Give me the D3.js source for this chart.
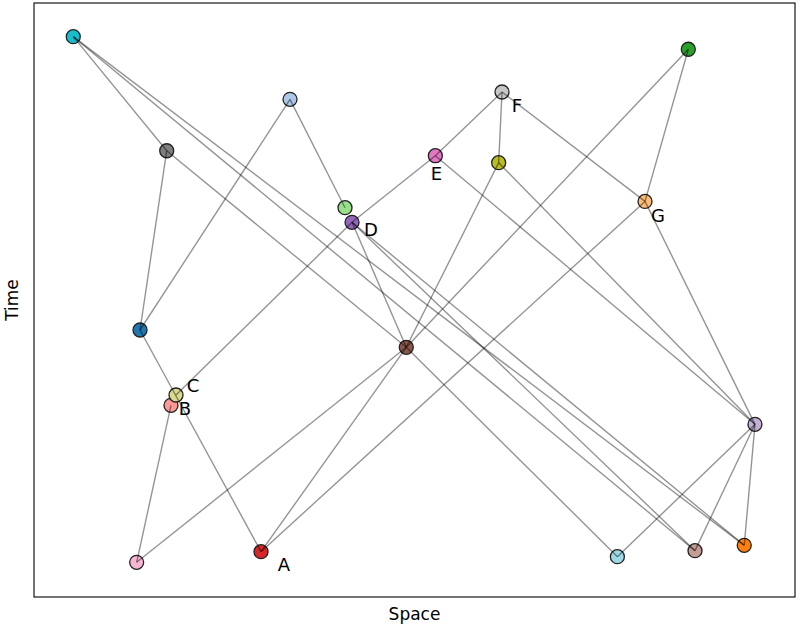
<!DOCTYPE html>
<html>
<head>
<meta charset="utf-8">
<script src="https://cdn.jsdelivr.net/npm/d3@7"></script>
<style>
	body { margin: 0; background: #fff; }
	svg { display: block; font-family: "DejaVu Sans", sans-serif; }
</style>
</head>
<body>
<div id="chart"></div>
<script>
// node ids (tab20 order), their space / time coordinates and colours
const nodeIds = ["blue", "lightblue", "orange", "lightorange", "green", "lightgreen", "red", "lightred",
	"purple", "lightpurple", "brown", "lightbrown", "pink", "lightpink", "grey", "lightgrey",
	"olive", "lightolive", "cyan", "lightcyan"];
const nodeSpace = [13.93, 33.64, 93.33, 80.29, 85.98, 40.87, 29.83, 18.00,
	41.79, 94.74, 48.92, 86.86, 52.74, 13.49, 17.44, 61.50,
	61.06, 18.66, 5.16, 76.66];
const nodeTime = [44.95, 83.78, 8.70, 66.60, 92.21, 65.54, 7.63, 32.27,
	63.08, 29.07, 42.04, 7.80, 74.29, 5.84, 75.13, 85.02,
	73.12, 34.01, 94.33, 6.79];
const nodeColors = ["#1f77b4", "#aec7e8", "#ff7f0e", "#ffbb78", "#2ca02c", "#98df8a", "#d62728", "#ff9896",
	"#9467bd", "#c5b0d5", "#8c564b", "#c49c94", "#e377c2", "#f7b6d2", "#7f7f7f", "#c7c7c7",
	"#bcbd22", "#dbdb8d", "#17becf", "#9edae5"];

// edges
const edgeSource = ["cyan", "cyan", "cyan", "grey", "grey", "lightblue", "lightblue", "purple", "purple", "purple",
	"purple", "purple", "pink", "pink", "lightgrey", "lightgrey", "olive", "olive", "green", "green",
	"lightorange", "lightorange", "blue", "lightpink", "lightpink", "brown", "brown", "lightpurple", "lightpurple", "lightpurple"];
const edgeTarget = ["grey", "orange", "lightbrown", "blue", "brown", "blue", "lightgreen", "lightolive", "pink", "brown",
	"orange", "lightbrown", "lightgrey", "lightpurple", "olive", "lightorange", "brown", "lightpurple", "lightorange", "brown",
	"red", "lightpurple", "red", "lightred", "brown", "red", "lightcyan", "lightcyan", "lightbrown", "orange"];

// labelled nodes
const labelNodes = ["red", "lightred", "lightolive", "purple", "pink", "lightgrey", "lightorange"];
const labelTexts = ["A", "B", "C", "D", "E", "F", "G"];

// label offsets in px (layout only)
const labelOffset = {
	A: [23, 13], B: [14, 3], C: [17, -9], D: [19, 7], E: [1, 18], F: [15, 14], G: [13, 14]
};

const W = 800, H = 629;
const margin = {top: 3, right: 5, bottom: 32, left: 34};
const width = W - margin.left - margin.right;
const height = H - margin.top - margin.bottom;

const svg = d3.select("#chart").append("svg")
	.attr("width", W)
	.attr("height", H);

const g = svg.append("g")
	.attr("transform", `translate(${margin.left},${margin.top})`);

const x = d3.scaleLinear().domain([0, 100]).range([0, width]);
const y = d3.scaleLinear().domain([0, 100]).range([height, 0]);

const nodes = nodeIds.map((id, i) => ({id, sx: nodeSpace[i], ty: nodeTime[i], color: nodeColors[i]}));
const byId = new Map(nodes.map(d => [d.id, d]));
const edges = edgeSource.map((s, i) => ({source: byId.get(s), target: byId.get(edgeTarget[i])}));

// nodes
g.selectAll(".node")
	.data(nodes)
	.join("circle")
	.attr("class", "node")
	.attr("cx", d => x(d.sx))
	.attr("cy", d => y(d.ty))
	.attr("r", 7)
	.attr("fill", d => d.color)
	.attr("stroke", "#222")
	.attr("stroke-width", 1.3);

// edges drawn on top, semi-transparent
g.selectAll(".edge")
	.data(edges)
	.join("line")
	.attr("class", "edge")
	.attr("x1", d => x(d.source.sx))
	.attr("y1", d => y(d.source.ty))
	.attr("x2", d => x(d.target.sx))
	.attr("y2", d => y(d.target.ty))
	.attr("stroke", "#000")
	.attr("stroke-opacity", 0.42)
	.attr("stroke-width", 1.4);

// labels
g.selectAll(".lbl")
	.data(labelNodes.map((n, i) => ({node: byId.get(n), text: labelTexts[i]})))
	.join("text")
	.attr("class", "lbl")
	.attr("x", d => x(d.node.sx) + labelOffset[d.text][0])
	.attr("y", d => y(d.node.ty) + labelOffset[d.text][1])
	.attr("text-anchor", "middle")
	.attr("dominant-baseline", "central")
	.style("font-size", "18px")
	.text(d => d.text);

// frame
g.append("rect")
	.attr("width", width)
	.attr("height", height)
	.attr("fill", "none")
	.attr("stroke", "#000")
	.attr("stroke-width", 1.1);

// axis titles
svg.append("text")
	.attr("x", margin.left + width / 2)
	.attr("y", 620)
	.attr("text-anchor", "middle")
	.style("font-size", "17px")
	.text("Space");

svg.append("text")
	.attr("transform", `translate(18,${margin.top + height / 2}) rotate(-90)`)
	.attr("text-anchor", "middle")
	.style("font-size", "17px")
	.text("Time");
</script>
</body>
</html>
